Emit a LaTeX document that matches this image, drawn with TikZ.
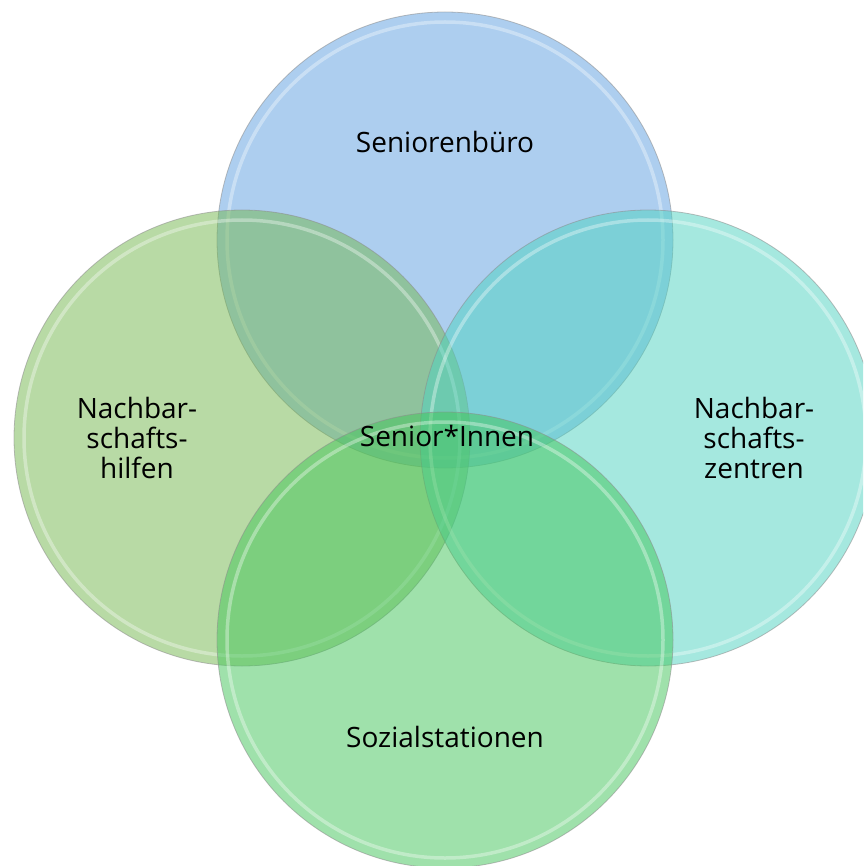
\documentclass[tikz,border=0pt]{standalone}
\usepackage{fontspec}
\setmainfont{Open Sans}
\definecolor{cTop}{RGB}{93,159,225}
\definecolor{cLeft}{RGB}{115,183,77}
\definecolor{cRight}{RGB}{77,211,193}
\definecolor{cBottom}{RGB}{65,197,89}
\tikzset{
  bubble/.style={circle, minimum size=456pt, inner sep=0pt, fill=#1, fill opacity=0.5,
    draw=black!45, draw opacity=0.55, line width=0.8pt},
  shine/.style={draw=white, draw opacity=0.35, line width=3.5pt},
  lbl/.style={font=\fontsize{28}{30}\selectfont, align=center, text=black, inner sep=0pt}
}
\begin{document}
\begin{tikzpicture}[x=1pt,y=-1pt]
\useasboundingbox (0,0) rectangle (863,866);
\clip (0,0) rectangle (863,866);
\fill[white] (0,0) rectangle (863,866);
% circles
\node[bubble=cTop] (top) at (445,240) {};
\draw[shine] (top.center) circle (218pt);
\node[bubble=cLeft] (left) at (242,438) {};
\draw[shine] (left.center) circle (218pt);
\node[bubble=cRight] (right) at (648,438) {};
\draw[shine] (right.center) circle (218pt);
\node[bubble=cBottom] (bottom) at (445,640) {};
\draw[shine] (bottom.center) circle (218pt);
% labels
\node[lbl] (tTop) at (445,142) {Seniorenbüro};
\node[lbl] (tLeft) at (137,438) {Nachbar-\\schafts-\\hilfen};
\node[lbl] (tRight) at (754,438) {Nachbar-\\schafts-\\zentren};
\node[lbl] (tBottom) at (445,737) {Sozialstationen};
\node[lbl] (tCenter) at (447,436) {Senior*Innen};
\end{tikzpicture}
\end{document}
